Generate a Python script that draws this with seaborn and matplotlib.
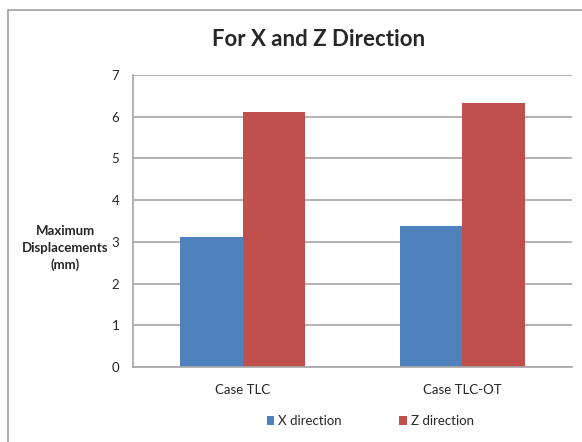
import matplotlib
matplotlib.use("Agg")
import matplotlib.pyplot as plt
import pandas as pd
import seaborn as sns
from matplotlib.patches import Rectangle

# ── Data ───────────────────────────────────────────────────────────────────────
cases = ["Case TLC", "Case TLC-OT"]
directions = ["X direction", "Z direction"]
x_disp = [3.12, 3.37]
z_disp = [6.11, 6.33]

df = pd.DataFrame({
    "case": cases * 2,
    "direction": [directions[0]] * len(cases) + [directions[1]] * len(cases),
    "value": x_disp + z_disp,
})

sns.set_style("white")
plt.rcParams["font.family"] = ["Lato", "DejaVu Sans"]

fig = plt.figure(figsize=(5.82, 4.42), dpi=100)
ax = fig.add_axes([133 / 582, 1 - 367 / 442, (572 - 133) / 582, (367 - 75) / 442])

sns.barplot(data=df, x="case", y="value", hue="direction",
            palette=["#4F81BD", "#C0504D"], width=0.57, ax=ax,
            edgecolor="none", saturation=1)

ax.set_ylim(0, 7)
ax.set_yticks(range(8))
ax.yaxis.grid(True, color="#A6A6A6", linewidth=1.2)
ax.set_axisbelow(True)
for s in ["top", "right"]:
    ax.spines[s].set_visible(False)
for s in ["left", "bottom"]:
    ax.spines[s].set_color("#A6A6A6")
    ax.spines[s].set_linewidth(1.2)
ax.tick_params(axis="both", length=0, labelsize=9.5, pad=10)
ax.tick_params(axis="x", pad=12)
ax.set_xlabel("")
ax.set_ylabel("")

fig.text(65 / 582, 1 - 248 / 442, "Maximum\nDisplacements\n(mm)", ha="center",
         va="center", fontsize=9.5, fontweight="bold", linespacing=1.45)
fig.text(319 / 582, 1 - 40 / 442, "For X and Z Direction", ha="center",
         va="center", fontsize=16, fontweight="bold")

ax.legend(loc="center", bbox_to_anchor=(0.54, -0.185), ncol=2, frameon=False,
          fontsize=9.5, handlelength=0.6, handleheight=0.6, columnspacing=4.3,
          handletextpad=0.3)

# outer chart frame
fig.patches.append(Rectangle((8 / 582, -0.1), 1.2, 1 - 10 / 442 + 0.1,
                             transform=fig.transFigure, fill=False,
                             edgecolor="#A0A0A0", linewidth=1.2))

fig.savefig("out.png", dpi=100)
